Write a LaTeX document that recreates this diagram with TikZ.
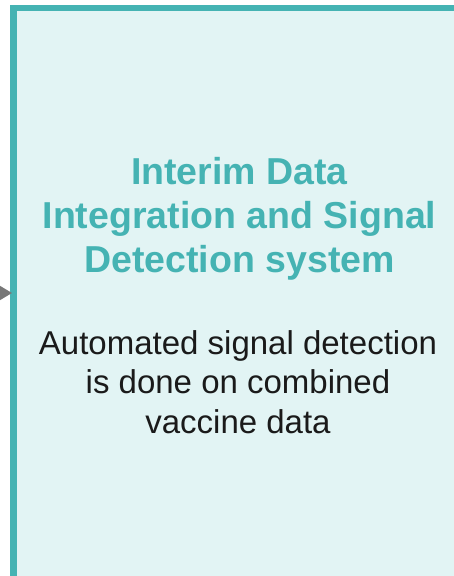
\documentclass[tikz,border=0pt]{standalone}
\usepackage{fontspec}
\setmainfont{Liberation Sans}
\usetikzlibrary{arrows.meta}
\definecolor{boxfill}{HTML}{E2F4F4}
\definecolor{boxline}{HTML}{45B3B3}
\definecolor{titlecol}{HTML}{45B3B3}
\definecolor{arrowcol}{HTML}{777777}
\definecolor{bodycol}{HTML}{1A1A1A}
\tikzset{
  stagebox/.style={draw=boxline, fill=boxfill, line width=6.5pt, minimum width=443.5pt, minimum height=580pt, inner sep=0pt},
  titletext/.style={text=titlecol, font=\fontsize{37.5pt}{44pt}\selectfont\bfseries, align=center, inner sep=0pt},
  bodytext/.style={text=bodycol, font=\fontsize{33pt}{39.5pt}\selectfont, align=center, inner sep=0pt},
  flow/.style={draw=arrowcol, line width=2pt, -{Triangle[length=13pt,width=15pt]}}
}
\begin{document}
\begin{tikzpicture}[x=1pt,y=-1pt]
\useasboundingbox (0,0) rectangle (454,576);
\clip (0,0) rectangle (454,576);
\coordinate (src) at (-40,293);
\node[stagebox] (box) at (235.25,298) {};
\draw[flow] (src) -- (12,293) coordinate (tipend);
\node[titletext, anchor=base] (title) at (239.5,272) {Interim Data\\Integration and Signal\\Detection system};
\node[bodytext, anchor=base] (body) at (238,433) {Automated signal detection\\is done on combined\\vaccine data};
\end{tikzpicture}
\end{document}
